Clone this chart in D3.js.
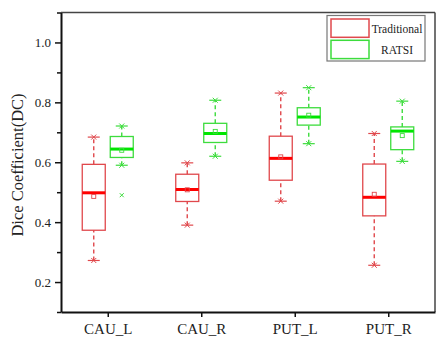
<!DOCTYPE html>
<html>
<head>
<meta charset="utf-8">
<script src="https://d3js.org/d3.v7.min.js"></script>
<style>
  body { margin: 0; background: #fff; }
  text { font-family: "Liberation Serif", "Times New Roman", serif; }
</style>
</head>
<body>
<div id="chart"></div>
<script>
// data
var categories = ["CAU_L", "CAU_R", "PUT_L", "PUT_R"];
var seriesNames = ["Traditional", "RATSI"];

// Traditional
var tradLow    = [0.272, 0.390, 0.470, 0.256];
var tradQ1     = [0.373, 0.469, 0.540, 0.421];
var tradMedian = [0.498, 0.509, 0.613, 0.483];
var tradQ3     = [0.593, 0.560, 0.687, 0.594];
var tradHigh   = [0.684, 0.598, 0.831, 0.696];
var tradMean   = [0.486, 0.508, 0.618, 0.493];

// RATSI
var ratsiLow    = [0.590, 0.620, 0.662, 0.603];
var ratsiQ1     = [0.616, 0.666, 0.724, 0.642];
var ratsiMedian = [0.644, 0.696, 0.751, 0.704];
var ratsiQ3     = [0.686, 0.730, 0.782, 0.718];
var ratsiHigh   = [0.721, 0.807, 0.849, 0.804];
var ratsiMean   = [0.640, 0.703, 0.757, 0.689];
var ratsiOutliers = [[0.490], [], [], []];

var majorTicks = [0.2, 0.4, 0.6, 0.8, 1.0];
var minorTicks = [0.1, 0.3, 0.5, 0.7, 0.9, 1.1];

var W = 440, H = 353;
var plotLeft = 61, plotRight = 435, plotTop = 12.5, plotBottom = 312;

var svg = d3.select("#chart").append("svg")
    .attr("width", W).attr("height", H);

var x = d3.scalePoint().domain(categories).range([plotLeft, plotRight]).padding(0.5);
var y = d3.scaleLinear().domain([0.1, 1.1]).range([plotBottom, plotTop]);

var series = [
  {name: seriesNames[0], box: "#e0484c", med: "#ff0000", off: -14,
   low: tradLow, q1: tradQ1, median: tradMedian, q3: tradQ3, high: tradHigh, mean: tradMean, out: [[], [], [], []]},
  {name: seriesNames[1], box: "#3ddc3d", med: "#00e600", off: 14,
   low: ratsiLow, q1: ratsiQ1, median: ratsiMedian, q3: ratsiQ3, high: ratsiHigh, mean: ratsiMean, out: ratsiOutliers}
];

var boxW = 23, capW = 8;

function cross(cx, cy, r) {
  return "M" + (cx - r) + "," + (cy - r) + "L" + (cx + r) + "," + (cy + r) +
         "M" + (cx - r) + "," + (cy + r) + "L" + (cx + r) + "," + (cy - r);
}

series.forEach(function(s) {
  var g = svg.append("g");
  categories.forEach(function(c, i) {
    var cx = x(c) + s.off;
    // whiskers
    [[s.low[i], s.q1[i]], [s.q3[i], s.high[i]]].forEach(function(p) {
      g.append("line")
        .attr("x1", cx).attr("x2", cx)
        .attr("y1", y(p[0])).attr("y2", y(p[1]))
        .attr("stroke", s.box).attr("stroke-width", 1.4)
        .attr("stroke-dasharray", "4,3");
    });
    // caps with x markers
    [s.low[i], s.high[i]].forEach(function(v) {
      g.append("line")
        .attr("x1", cx - capW / 2 - 2).attr("x2", cx + capW / 2 + 2)
        .attr("y1", y(v)).attr("y2", y(v))
        .attr("stroke", s.box).attr("stroke-width", 1.2);
      g.append("path")
        .attr("d", cross(cx, y(v), 2.5))
        .attr("stroke", s.box).attr("stroke-width", 1);
    });
    // box
    g.append("rect")
      .attr("x", cx - boxW / 2).attr("y", y(s.q3[i]))
      .attr("width", boxW).attr("height", y(s.q1[i]) - y(s.q3[i]))
      .attr("fill", "none").attr("stroke", s.box).attr("stroke-width", 1.3);
    // median
    g.append("line")
      .attr("x1", cx - boxW / 2).attr("x2", cx + boxW / 2)
      .attr("y1", y(s.median[i])).attr("y2", y(s.median[i]))
      .attr("stroke", s.med).attr("stroke-width", 3);
    // mean
    g.append("rect")
      .attr("x", cx - 2).attr("y", y(s.mean[i]) - 2)
      .attr("width", 4).attr("height", 4)
      .attr("fill", "none").attr("stroke", s.box).attr("stroke-width", 0.9);
    // outliers
    s.out[i].forEach(function(v) {
      g.append("path")
        .attr("d", cross(cx, y(v), 2))
        .attr("stroke", s.box).attr("stroke-width", 1);
    });
  });
});

// frame: top and right
svg.append("line").attr("x1", plotLeft).attr("x2", plotRight).attr("y1", plotTop).attr("y2", plotTop)
  .attr("stroke", "#444").attr("stroke-width", 1.5);
svg.append("line").attr("x1", plotRight).attr("x2", plotRight).attr("y1", plotTop).attr("y2", plotBottom)
  .attr("stroke", "#444").attr("stroke-width", 1.5);

// y axis
var yAxis = svg.append("g").attr("transform", "translate(" + plotLeft + ",0)")
  .call(d3.axisLeft(y).tickValues(majorTicks).tickFormat(d3.format(".1f")).tickSize(6).tickSizeOuter(0));
svg.append("g").attr("transform", "translate(" + plotLeft + ",0)")
  .call(d3.axisLeft(y).tickValues(minorTicks).tickFormat("").tickSize(4).tickSizeOuter(0))
  .select(".domain").remove();

// x axis
var xAxis = svg.append("g").attr("transform", "translate(0," + plotBottom + ")")
  .call(d3.axisBottom(x).tickSize(5).tickSizeOuter(0));

[yAxis, xAxis].forEach(function(a) {
  a.select(".domain").attr("stroke", "#111").attr("stroke-width", 2);
});
svg.selectAll(".tick line").attr("stroke", "#111").attr("stroke-width", 1.5);
yAxis.selectAll("text").attr("font-size", 13).attr("fill", "#222")
  .attr("font-family", "Liberation Serif").attr("x", -10);
xAxis.selectAll("text").attr("font-size", 15).attr("fill", "#222")
  .attr("font-family", "Liberation Serif").attr("dy", "0.95em");

// y label
svg.append("text")
  .attr("transform", "translate(23,165) rotate(-90)")
  .attr("text-anchor", "middle")
  .attr("font-size", 16.5).attr("fill", "#222")
  .text("Dice Coefficient(DC)");

// legend
var lg = svg.append("g");
lg.append("rect").attr("x", 327).attr("y", 15.5).attr("width", 98).attr("height", 45.5)
  .attr("fill", "#fff").attr("stroke", "#777").attr("stroke-width", 1.2);
series.forEach(function(s, i) {
  lg.append("rect").attr("x", 331).attr("y", 19 + i * 21.3).attr("width", 38).attr("height", 18.3)
    .attr("fill", "none").attr("stroke", s.box).attr("stroke-width", 1.5);
  lg.append("text").attr("x", 397).attr("y", 32.5 + i * 21.3)
    .attr("text-anchor", "middle").attr("font-size", 11.5).attr("fill", "#222")
    .text(s.name);
});
</script>
</body>
</html>
